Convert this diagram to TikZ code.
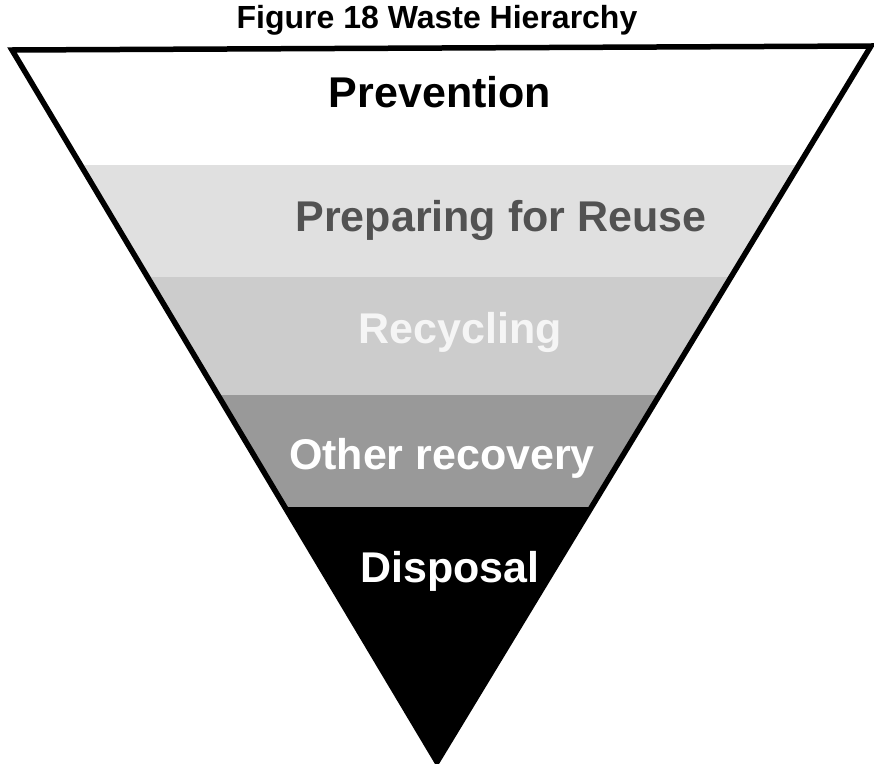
\documentclass[tikz,border=0pt]{standalone}
\usepackage{fontspec}
\setmainfont{Liberation Sans}
\begin{document}
\begin{tikzpicture}[x=1pt,y=-1pt,
  lbl/.style={font=\bfseries\fontsize{43}{46}\selectfont, anchor=base, inner sep=0pt},
  ttl/.style={font=\bfseries\fontsize{32}{34}\selectfont, anchor=base, inner sep=0pt}]
\useasboundingbox (0,0) rectangle (874,763);
\coordinate (A) at (12,50);
\coordinate (B) at (871,46);
\coordinate (C) at (437,762);
\begin{scope}
  \clip (A) -- (B) -- (C) -- cycle;
  \fill[white] (0,40) rectangle (874,165);
  \fill[gray!24] (0,165) rectangle (874,277);
  \fill[gray!40] (0,277) rectangle (874,395);
  \fill[black!40] (0,395) rectangle (874,507);
  \fill[black] (0,507) rectangle (874,770);
\end{scope}
\draw[line width=5.5pt, line join=miter] (A) -- (B) -- (C) -- cycle;
\node[ttl] (title) at (437,28) {Figure 18 Waste Hierarchy};
\node[lbl, text=black] (prev) at (440,107) {Prevention};
\node[lbl, text=black!68] (reuse) at (501,231) {Preparing for Reuse};
\node[lbl, text=black!4] (recy) at (460,343) {Recycling};
\node[lbl, text=white] (other) at (442,469) {Other recovery};
\node[lbl, text=white] (disp) at (450,582) {Disposal};
\end{tikzpicture}
\end{document}
